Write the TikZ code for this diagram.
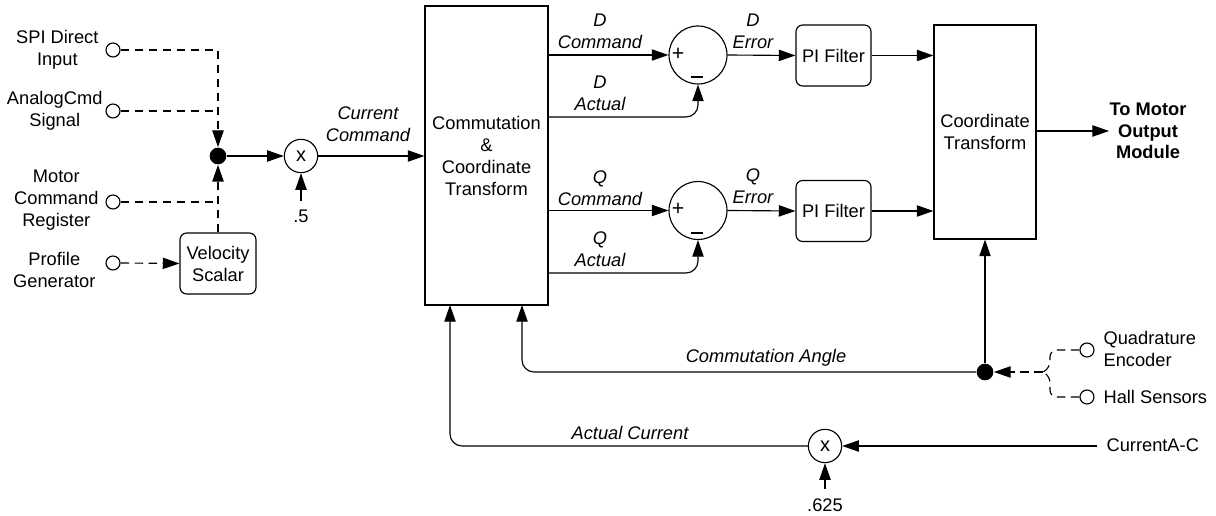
\documentclass[tikz,border=0pt]{standalone}
\usepackage{fontspec}
\setmainfont{Liberation Sans}
\usetikzlibrary{arrows.meta}
\begin{document}
\begin{tikzpicture}[x=0.75pt,y=-0.75pt,
  font=\fontsize{13.7pt}{16.5pt}\selectfont,
  line width=0.85pt,
  >={Triangle[length=12.5pt,width=8.5pt]},
  box/.style={draw, align=center, inner sep=0pt},
  rbox/.style={box, rounded corners=5pt},
  port/.style={draw, circle, minimum size=10.5pt, inner sep=0pt},
  jdot/.style={fill, circle, minimum size=12.5pt, inner sep=0pt},
  mult/.style={draw, circle, minimum size=25pt, inner sep=0pt},
  summer/.style={draw, circle, minimum size=43.5pt, inner sep=0pt},
  lbl/.style={align=center, inner sep=0pt, font=\fontsize{13.7pt}{16.5pt}\selectfont\itshape},
  txt/.style={align=center, inner sep=0pt},
  dsh/.style={dash pattern=on 6.5pt off 4pt},
  fb/.style={->, rounded corners=9pt}
]
\useasboundingbox (0,0) rectangle (1216,516);

% main blocks
\node[box, minimum width=92.25pt, minimum height=224.25pt] (comm) at (486.5,155.5) {Commutation\\\&\\Coordinate\\Transform};
\node[box, minimum width=76.5pt, minimum height=160.5pt] (coord) at (985,132) {Coordinate\\Transform};
\node[rbox, minimum width=56.25pt, minimum height=45.75pt] (pid) at (833.5,55.5) {PI Filter};
\node[rbox, minimum width=56.25pt, minimum height=45.75pt] (piq) at (833.5,211) {PI Filter};
\node[rbox, minimum width=57pt, minimum height=45.75pt] (vel) at (218,263.5) {Velocity\\Scalar};

% summers
\node[summer] (sd) at (698,55) {};
\node[summer] (sq) at (698,210.5) {};
\node[txt, font=\fontsize{16pt}{16pt}\selectfont] at (678,54) {+};
\node[txt] at (697,77) {\rule{9.5pt}{1.1pt}};
\node[txt, font=\fontsize{16pt}{16pt}\selectfont] at (678,209.5) {+};
\node[txt] at (697,233) {\rule{9.5pt}{1.1pt}};

% multipliers
\node[mult, font=\fontsize{15pt}{15pt}\selectfont] (m1) at (301,156) {x};
\node[mult, font=\fontsize{15pt}{15pt}\selectfont] (m2) at (825,446) {x};
\node[txt] (half) at (301,216) {.5};
\node[txt] (k625) at (825,505) {.625};
\coordinate (h0) at (301,201);
\coordinate (k0) at (825,489);

% input ports
\node[port] (spi) at (113,50) {};
\node[port] (anl) at (113,111) {};
\node[port] (mcr) at (113,202) {};
\node[port] (pg) at (113,263) {};
\node[txt, anchor=east] at (99,50) {SPI Direct\\Input};
\node[txt, anchor=east] at (103,111) {AnalogCmd\\Signal};
\node[txt, anchor=east] at (99,200.5) {Motor\\Command\\Register};
\node[txt, anchor=east] at (96,269.5) {Profile\\Generator};

\node[jdot] (j) at (218,156) {};

% sensors
\node[port] (qe) at (1087,350) {};
\node[port] (hs) at (1087,397) {};
\node[txt, anchor=west, align=left] at (1103,349) {Quadrature\\Encoder};
\node[txt, anchor=west] at (1103,397) {Hall Sensors};
\node[jdot] (ad) at (985,372) {};
\coordinate (br) at (1043,372);

\node[txt, anchor=west] (cac) at (1106,445) {CurrentA-C};
\coordinate (c0) at (1097,446);

\node[txt, font=\fontsize{13.7pt}{16pt}\selectfont\bfseries] (tomo) at (1148,131) {To Motor\\Output\\Module};

% labels
\node[lbl] at (368,124.5) {Current\\Command};
\node[lbl] at (600,31) {D\\Command};
\node[lbl] at (600,93) {D\\Actual};
\node[lbl] at (753,31) {D\\Error};
\node[lbl] at (600,188) {Q\\Command};
\node[lbl] at (600,249) {Q\\Actual};
\node[lbl] at (753,186) {Q\\Error};
\node[lbl] at (766,358) {Commutation Angle};
\node[lbl] at (630,433) {Actual Current};

% coordinates on the commutation box
\coordinate (da) at (548,117);
\coordinate (qa) at (548,273);
\coordinate (ca) at (450,305);
\coordinate (cb) at (522,305);

% input connectors
\draw[dsh,->] (spi.east) -| (j.north);
\draw[dsh] (anl.east) -- (anl.east -| j);
\draw[dsh] (mcr.east) -- (mcr.east -| j);
\draw[dsh,->] (vel.north) -- (j.south);
\draw[dsh,->] (pg.east) -- (vel.west);
\draw[->] (j.east) -- (m1.west);
\draw[->] (h0) -- (m1.south);
\draw[->] (m1.east) -- (m1.east -| comm.west);

% D / Q paths
\draw[->] (comm.east |- sd.west) -- (sd.west);
\draw[fb] (da) -| (sd.south);
\draw[->] (sd.east) -- (pid.west);
\draw[->] (pid.east) -- (pid.east -| coord.west);
\draw[->] (comm.east |- sq.west) -- (sq.west);
\draw[fb] (qa) -| (sq.south);
\draw[->] (sq.east) -- (piq.west);
\draw[->] (piq.east) -- (piq.east -| coord.west);

% output
\draw[->] (coord.east |- tomo) -- (tomo.west);

% commutation angle
\draw[->] (ad.north) -- (coord.south -| ad);
\draw[fb] (ad.west) -| (cb);
\draw[dsh,->] (br) -- (ad.east);
\draw[dsh, rounded corners=5pt] (qe.west) -- (1050,350) -- (1050,368) -- (br);
\draw[dsh, rounded corners=5pt] (hs.west) -- (1050,397) -- (1050,376) -- (br);

% actual current
\draw[->] (c0) -- (m2.east);
\draw[->] (k0) -- (m2.south);
\draw[fb] (m2.west) -| (ca);
\end{tikzpicture}
\end{document}
